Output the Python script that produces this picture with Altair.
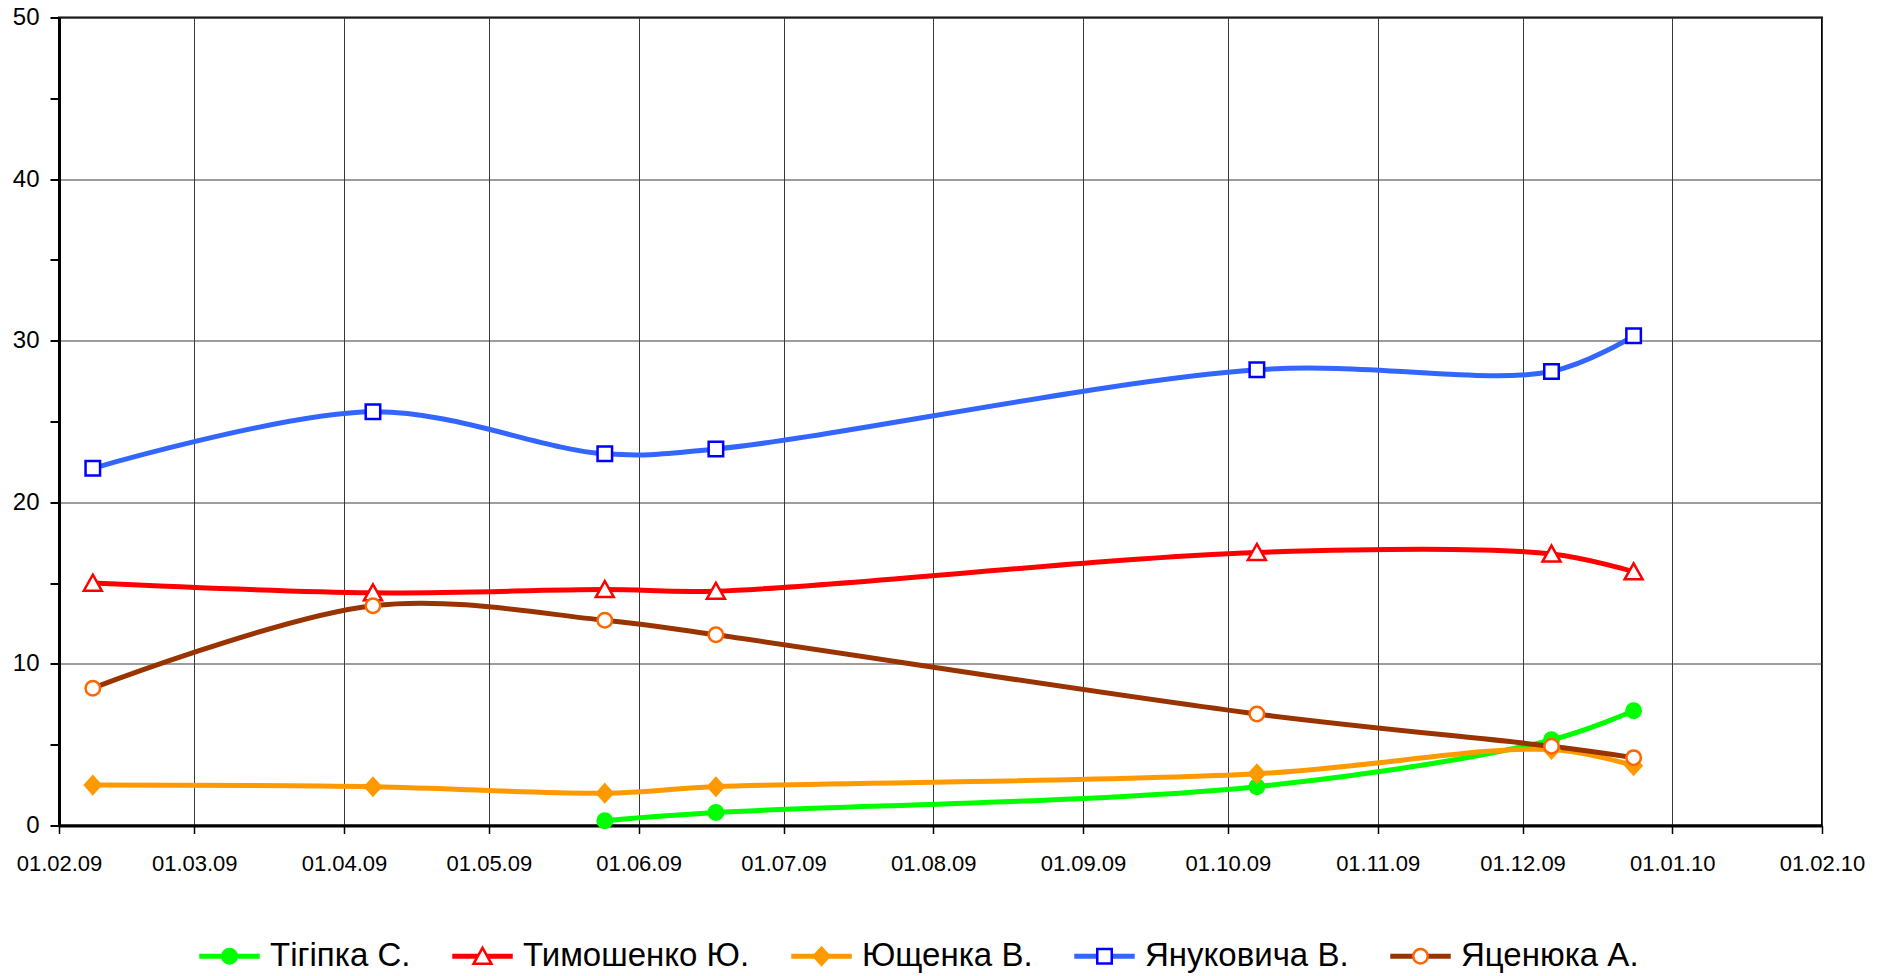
import altair as alt
import pandas as pd

# ---- data ----
dates = ["2009-02-08", "2009-04-07", "2009-05-25", "2009-06-17",
         "2009-10-07", "2009-12-07", "2009-12-24"]
candidates = ["Тігіпка С.", "Тимошенко Ю.", "Ющенка В.", "Януковича В.", "Яценюка А."]
tihipko = [None, None, 0.3, 0.8, 2.4, 5.3, 7.1]
tymoshenko = [15.0, 14.4, 14.6, 14.5, 16.9, 16.8, 15.7]
yushchenko = [2.5, 2.4, 2.0, 2.4, 3.2, 4.7, 3.7]
yanukovych = [22.1, 25.6, 23.0, 23.3, 28.2, 28.1, 30.3]
yatseniuk = [8.5, 13.6, 12.7, 11.8, 6.9, 4.9, 4.2]
series = [tihipko, tymoshenko, yushchenko, yanukovych, yatseniuk]

y_ticks = [0, 5, 10, 15, 20, 25, 30, 35, 40, 45, 50]
x_tick_months = [(2009, m) for m in range(2, 13)] + [(2010, 1), (2010, 2)]

# ---- styles ----
line_colors = ["#00FF00", "#FF0000", "#FF9900", "#3366FF", "#993300"]
marker_fills = ["#00FF00", "#FFFFFF", "#FF9900", "#FFFFFF", "#FFFFFF"]
marker_strokes = ["#00FF00", "#FF0000", "#FF9900", "#0000FF", "#FF6600"]

EXT = "M-1,0M1,0"  # invisible extent so legend cells line up with line legend
circle = EXT + "M0.25,0A0.25,0.25,0,1,1,-0.25,0A0.25,0.25,0,1,1,0.25,0Z"
triangle = EXT + "M0,-0.29L0.31,0.26L-0.31,0.26Z"
diamond = EXT + "M0,-0.3L0.27,0L0,0.3L-0.27,0Z"
square = EXT + "M-0.25,-0.25H0.25V0.25H-0.25Z"
marker_paths = [circle, triangle, diamond, square, circle]
legend_line_path = "M-1,-0.04H1V0.04H-1Z"

FONT = "Liberation Sans"
SYM = 3364  # 58px legend symbol box
GRID = "#3a3a3a"

rows = []
for name, vals in zip(candidates, series):
    for d, v in zip(dates, vals):
        if v is not None:
            rows.append({"date": d, "cand": name, "cand_m": name, "value": v})
df = pd.DataFrame(rows)

x_enc = alt.X(
    "date:T",
    scale=alt.Scale(type="utc", domain=[alt.DateTime(year=2009, month=2, date=1, utc=True),
                                        alt.DateTime(year=2010, month=2, date=1, utc=True)]),
    axis=alt.Axis(
        values=[alt.DateTime(year=y, month=m, date=1, utc=True) for y, m in x_tick_months],
        format="%d.%m.%y", title=None, labelFont=FONT, labelFontSize=22, labelColor="black",
        labelPadding=20, labelOverlap=False, labelFlush=False,
        tickSize=8, tickColor="black", tickWidth=1.5,
        domainColor="black", domainWidth=3,
        grid=True, gridColor=GRID, gridWidth=1,
    ),
)
y_enc = alt.Y(
    "value:Q",
    scale=alt.Scale(domain=[0, 50], nice=False),
    axis=alt.Axis(
        values=y_ticks, title=None,
        labelExpr="datum.value % 10 === 0 ? datum.label : ''",
        labelFont=FONT, labelFontSize=24, labelColor="black", labelPadding=11,
        tickSize=9, tickColor="black", tickWidth=2,
        domainColor="black", domainWidth=3,
        grid=True, gridColor=GRID, gridWidth=1,
        gridOpacity={"condition": {"test": "datum.value % 10 !== 0", "value": 0}, "value": 1},
    ),
)

common_legend = dict(
    title=None, orient="none", legendX=140, legendY=908, direction="horizontal",
    columns=5, symbolSize=SYM, symbolStrokeWidth=2.5, labelFont=FONT, labelFontSize=33,
    labelColor="black", labelOffset=10, columnPadding=37, padding=0, labelLimit=600,
)

lines = alt.Chart(df).mark_line(interpolate="catmull-rom", strokeWidth=5).encode(
    x=x_enc, y=y_enc,
    color=alt.Color("cand:N", sort=candidates,
                    scale=alt.Scale(range=line_colors),
                    legend=alt.Legend(symbolType=legend_line_path, **common_legend)),
)

pt_legend = alt.Legend(labelOpacity=0, **common_legend)
points = alt.Chart(df).mark_point(size=SYM, filled=True, strokeWidth=2.5, opacity=1).encode(
    x=x_enc, y=y_enc,
    shape=alt.Shape("cand_m:N", scale=alt.Scale(domain=candidates, range=marker_paths), legend=pt_legend),
    fill=alt.Fill("cand_m:N", scale=alt.Scale(domain=candidates, range=marker_fills), legend=pt_legend),
    stroke=alt.Stroke("cand_m:N", scale=alt.Scale(domain=candidates, range=marker_strokes), legend=pt_legend),
)

chart = alt.layer(lines, points).properties(
    width=1763, height=808,
    padding={"left": 51, "top": 9.5, "right": 55, "bottom": 150},
    autosize=alt.AutoSizeParams(type="none"),
).configure_view(stroke="black", strokeWidth=2)

chart.save("out.html", embed_options={"renderer": "svg", "actions": False})
